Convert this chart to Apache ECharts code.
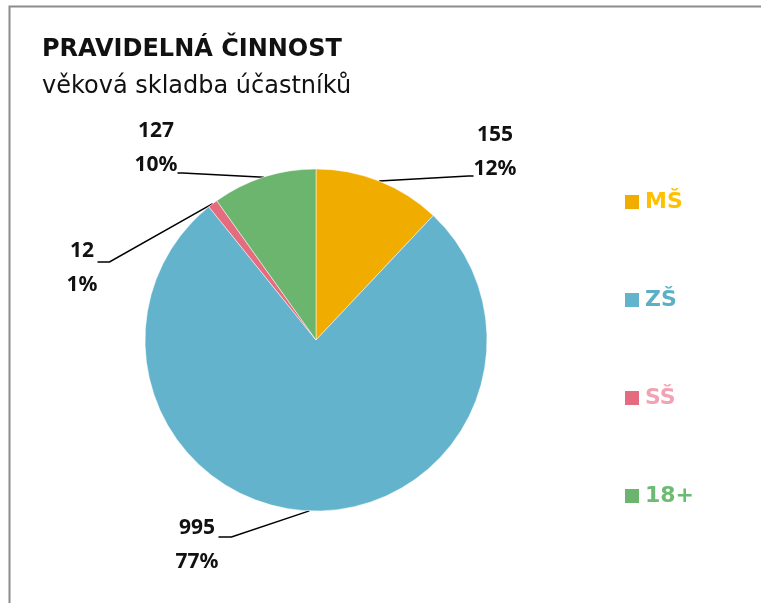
<!DOCTYPE html>
<html>
<head>
<meta charset="utf-8">
<script src="https://cdn.jsdelivr.net/npm/echarts@6/dist/echarts.min.js"></script>
<style>
  html, body { margin: 0; padding: 0; background: #fff; }
  #chart { width: 761px; height: 603px; }
</style>
</head>
<body>
<div id="chart"></div>
<script>
// data
const categories = ['MŠ', 'ZŠ', 'SŠ', '18+']
const counts = [155, 995, 12, 127]
const sliceColors = ['#F0AD00', '#62B3CB', '#E46C7E', '#6BB56E']
const legendColors = ['#FFC000', '#5BB0C8', '#F2A3B3', '#6DBB72']

// label placement: x, y, blank space above/below the text (moves where the leader line attaches), length2
const labelPlace = [
  { x: 495, y: 176, above: 0, below: 48, len2: 5 },
  { x: 197, y: 537, above: 16, below: 0, len2: 13 },
  { x: 82, y: 262, above: 12, below: 0, len2: 12 },
  { x: 156, y: 173, above: 0, below: 50, len2: 5 }
]

function labelFormat(i) {
  const p = labelPlace[i]
  let s = '{c}\n{d}%'
  if (p.above) s = '{up| }\n' + s
  if (p.below) s = s + '\n{down| }'
  return s
}

const chart = echarts.init(document.getElementById('chart'))

chart.setOption({
  animation: false,
  graphic: [{
    type: 'rect',
    shape: { x: 9.5, y: 6.5, width: 800, height: 700 },
    style: { fill: 'none', stroke: '#8c8c8c', lineWidth: 2 }
  }],
  title: [
    {
      text: 'PRAVIDELNÁ ČINNOST',
      left: 37,
      top: 33,
      textStyle: { fontFamily: 'DejaVu Sans', fontWeight: 'bold', fontSize: 24, color: '#111' }
    },
    {
      text: 'věková skladba účastníků',
      left: 37,
      top: 70,
      textStyle: { fontFamily: 'DejaVu Sans', fontWeight: 'normal', fontSize: 24, color: '#111' }
    }
  ],
  legend: {
    orient: 'vertical',
    left: 623,
    top: 191,
    padding: 0,
    itemWidth: 16,
    itemHeight: 16,
    itemGap: 76,
    icon: 'rect',
    data: categories.map((c, i) => ({
      name: c,
      textStyle: { color: legendColors[i] }
    })),
    textStyle: { fontFamily: 'DejaVu Sans', fontWeight: 'bold', fontSize: 22 }
  },
  series: [{
    type: 'pie',
    center: [316, 340],
    radius: 171,
    startAngle: 90,
    clockwise: true,
    percentPrecision: 0,
    color: sliceColors,
    itemStyle: { borderColor: '#fff', borderWidth: 0.5 },
    data: categories.map((c, i) => ({
      name: c,
      value: counts[i],
      label: {
        formatter: labelFormat(i),
        rich: {
          up: { fontSize: 2, lineHeight: labelPlace[i].above },
          down: { fontSize: 2, lineHeight: labelPlace[i].below }
        }
      },
      labelLine: { length2: labelPlace[i].len2 }
    })),
    label: {
      fontFamily: 'Noto Sans',
      fontWeight: 'bold',
      fontSize: 21,
      lineHeight: 34,
      color: '#111',
      align: 'center'
    },
    labelLine: {
      show: true,
      length: 15,
      lineStyle: { color: '#000', width: 1.5 }
    },
    labelLayout: function (params) {
      const p = labelPlace[params.dataIndex]
      return { x: p.x, y: p.y, align: 'center', verticalAlign: 'middle' }
    }
  }]
})
</script>
</body>
</html>
